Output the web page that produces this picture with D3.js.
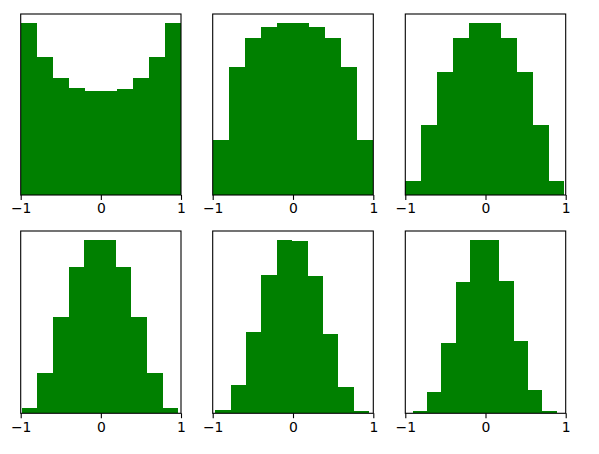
<!DOCTYPE html>
<html>
<head>
<meta charset="utf-8">
<script src="https://cdn.jsdelivr.net/npm/d3@7"></script>
<style>
  html, body { margin: 0; padding: 0; background: #fff; }
  svg { display: block; }
  text { font-family: "DejaVu Sans", sans-serif; }
</style>
</head>
<body>
<svg id="chart" width="599" height="454"></svg>
<script>
// ---- data ----
const xTicks = [-1, 0, 1];
const xTickLabels = ["\u22121", "0", "1"];
// data range covered by the 10 bins of each panel
const binMin = [-1.0, -1.0, -1.0, -0.988, -0.968, -0.908];
const binMax = [1.0, 1.0, 0.985, 0.967, 0.950, 0.888];
// bar heights (counts) per panel
const counts1 = [518, 416, 353, 323, 312, 312, 320, 353, 416, 518];
const counts2 = [165, 386, 472, 505, 518, 518, 505, 472, 386, 165];
const counts3 = [43, 211, 370, 472, 518, 518, 472, 370, 211, 43];
const counts4 = [15, 120, 289, 437, 520, 520, 437, 289, 120, 15];
const counts5 = [9, 84, 243, 414, 520, 517, 411, 238, 78, 8];
const counts6 = [8, 65, 211, 394, 520, 520, 397, 216, 69, 8];
const allCounts = [counts1, counts2, counts3, counts4, counts5, counts6];

// ---- layout ----
const colX = [[20.7, 181], [212.7, 373.3], [405.3, 565.7]];
const rowY = [[14, 195], [231, 413.3]];
const barColor = "#008000";

const svg = d3.select("#chart");

allCounts.forEach((counts, i) => {
  const col = i % 3, row = Math.floor(i / 3);
  const [x0, x1] = colX[col];
  const [y0, y1] = rowY[row];
  const x = d3.scaleLinear().domain([-1, 1]).range([x0, x1]);
  const y = d3.scaleLinear().domain([0, d3.max(counts) * 1.05]).range([y1, y0]);
  const n = counts.length;
  const w = (binMax[i] - binMin[i]) / n;
  const bins = counts.map((c, k) => ({
    a: binMin[i] + k * w,
    b: binMin[i] + (k + 1) * w,
    c
  }));
  const g = svg.append("g");
  g.selectAll("rect").data(bins).join("rect")
    .attr("x", d => x(d.a))
    .attr("width", d => x(d.b) - x(d.a))
    .attr("y", d => y(d.c))
    .attr("height", d => y(0) - y(d.c))
    .attr("fill", barColor)
    .attr("shape-rendering", "crispEdges");

  // frame (spines)
  g.append("rect")
    .attr("x", x0).attr("y", y0)
    .attr("width", x1 - x0).attr("height", y1 - y0)
    .attr("fill", "none").attr("stroke", "#000").attr("stroke-width", 1.1);

  // x axis
  const ax = d3.axisBottom(x)
    .tickValues(xTicks)
    .tickFormat((d, k) => xTickLabels[k])
    .tickSizeInner(4.9).tickSizeOuter(0).tickPadding(3.5);
  const axg = g.append("g").attr("transform", `translate(0,${y1})`).call(ax);
  axg.select(".domain").remove();
  axg.selectAll(".tick line").attr("stroke", "#000").attr("stroke-width", 1.1);
  axg.selectAll(".tick text")
    .attr("fill", "#000")
    .style("font-family", "'DejaVu Sans', sans-serif")
    .style("font-size", "13.9px");
});
</script>
</body>
</html>
